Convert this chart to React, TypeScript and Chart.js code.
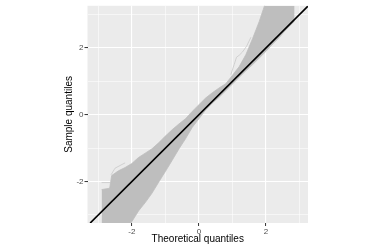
import React, { useEffect, useRef } from "react";
import { Chart, registerables } from "chart.js";

Chart.register(...registerables);

// Theoretical quantile grid for the envelope of the simulated QQ lines
const theoretical = [-2.9, -2.66, -2.6, -2.4, -2.2, -2.0, -1.8, -1.6, -1.4, -1.2, -1.0, -0.8, -0.6, -0.4, -0.2, 0, 0.2, 0.4, 0.6, 0.8, 1.0, 1.2, 1.4, 1.6, 1.8, 2.0, 2.2, 2.4, 2.6, 2.85];
// Upper envelope of sample quantiles
const sampleUpper = [-2.24, -2.2, -1.82, -1.68, -1.58, -1.46, -1.28, -1.15, -1.02, -0.84, -0.64, -0.45, -0.28, -0.12, 0.1, 0.3, 0.5, 0.66, 0.8, 0.93, 1.18, 1.44, 1.8, 2.28, 2.8, 3.4, 3.6, 3.6, 3.6, 3.6];
// Lower envelope of sample quantiles
const sampleLower = [-3.6, -3.6, -3.6, -3.6, -3.55, -3.2, -2.88, -2.63, -2.35, -2.02, -1.7, -1.37, -1.03, -0.72, -0.38, -0.12, 0.14, 0.35, 0.52, 0.72, 0.92, 1.12, 1.32, 1.5, 1.7, 1.9, 2.12, 2.32, 2.55, 2.8];

// Individual stray lines visible outside the dense band
const strayFlatX = [-2.9, -2.62];
const strayFlatY = [-2.03, -2.03];
const strayUpX = [0.95, 1.05, 1.12, 1.2, 1.3, 1.42, 1.55];
const strayUpY = [1.2, 1.5, 1.72, 1.78, 1.88, 2.05, 2.32];
const strayLeftX = [-2.62, -2.5, -2.35, -2.2];
const strayLeftY = [-1.8, -1.6, -1.52, -1.44];

// Reference line y = x
const refLineX = [-3.24, 3.25];
const refLineY = [-3.24, 3.25];

const xMin = -3.32;
const xMax = 3.25;
const yMin = -3.24;
const yMax = 3.26;
const tickValues = [-2, 0, 2];

const zip = (xs: number[], ys: number[]) => xs.map((x, i) => ({ x, y: ys[i] }));

export default function App() {
  const canvasRef = useRef<HTMLCanvasElement | null>(null);

  useEffect(() => {
    const canvas = canvasRef.current;
    if (!canvas) return;
    const isMajor = (v: number) => tickValues.includes(Math.round(v * 1000) / 1000);
    const gridOpts = {
      color: "#FFFFFF",
      lineWidth: (ctx: any) => (ctx.tick && isMajor(ctx.tick.value) ? 1.1 : 0.55),
      tickColor: (ctx: any) => (ctx.tick && isMajor(ctx.tick.value) ? "#333333" : "rgba(0,0,0,0)"),
      tickLength: 3,
      tickWidth: 1,
      drawTicks: true,
    };
    const tickFont = { family: "'Liberation Sans', Arial, sans-serif", size: 8 };
    const titleFont = { family: "'Liberation Sans', Arial, sans-serif", size: 10, lineHeight: 1.2 };
    const stray = (xs: number[], ys: number[], label: string) => ({
      label,
      data: zip(xs, ys),
      borderColor: "#C4C4C4",
      borderWidth: 0.7,
      pointRadius: 0,
      fill: false,
      clip: 0,
      order: 2,
    });

    const chart = new Chart(canvas, {
      type: "line",
      data: {
        datasets: [
          {
            label: "upper",
            data: zip(theoretical, sampleUpper),
            borderColor: "#BEBEBE",
            backgroundColor: "#BEBEBE",
            borderWidth: 0.8,
            pointRadius: 0,
            fill: "+1",
            clip: 0,
            order: 3,
          },
          {
            label: "lower",
            data: zip(theoretical, sampleLower),
            borderColor: "#BEBEBE",
            backgroundColor: "#BEBEBE",
            borderWidth: 0.8,
            pointRadius: 0,
            fill: false,
            clip: 0,
            order: 3,
          },
          stray(strayFlatX, strayFlatY, "stray1"),
          stray(strayUpX, strayUpY, "stray2"),
          stray(strayLeftX, strayLeftY, "stray3"),
          {
            label: "ref",
            data: zip(refLineX, refLineY),
            borderColor: "#000000",
            borderWidth: 1.7,
            pointRadius: 0,
            fill: false,
            clip: 0,
            order: 0,
          },
        ] as any,
      },
      options: {
        animation: false,
        responsive: true,
        maintainAspectRatio: false,
        layout: { padding: { left: 0, right: 66, top: 2, bottom: 0 } },
        plugins: {
          legend: { display: false },
          tooltip: { enabled: false },
        },
        scales: {
          x: {
            type: "linear",
            min: xMin,
            max: xMax,
            border: { display: false },
            grid: gridOpts as any,
            ticks: {
              stepSize: 1,
              autoSkip: false,
              includeBounds: false,
              maxRotation: 0,
              padding: 1,
              color: "#4D4D4D",
              font: tickFont,
              callback: (v: any) => (isMajor(Number(v)) ? String(Math.round(Number(v))) : ""),
            },
            title: {
              display: true,
              text: "Theoretical quantiles",
              color: "#000000",
              font: titleFont,
              padding: { top: 0, bottom: 2 },
            },
            afterFit: (scale: any) => {
              scale.height = 24;
            },
          },
          y: {
            type: "linear",
            min: yMin,
            max: yMax,
            border: { display: false },
            grid: gridOpts as any,
            ticks: {
              stepSize: 1,
              autoSkip: false,
              includeBounds: false,
              padding: 1,
              color: "#4D4D4D",
              font: tickFont,
              callback: (v: any) => (isMajor(Number(v)) ? String(Math.round(Number(v))) : ""),
            },
            title: {
              display: true,
              text: "Sample quantiles",
              color: "#000000",
              font: titleFont,
              padding: { top: 63.5, bottom: 0 },
            },
            afterFit: (scale: any) => {
              scale.width = 87.5;
            },
          },
        },
      },
      plugins: [
        {
          id: "panelBg",
          beforeDraw: (c: any) => {
            const { ctx, chartArea } = c;
            ctx.save();
            ctx.fillStyle = "#EBEBEB";
            ctx.fillRect(chartArea.left, chartArea.top, chartArea.right - chartArea.left, chartArea.bottom - chartArea.top);
            ctx.restore();
          },
        },
      ],
    });
    return () => chart.destroy();
  }, []);

  return (
    <div style={{ position: "absolute", left: 0, top: 0, width: 374, height: 247, background: "#FFFFFF" }}>
      <canvas ref={canvasRef} />
    </div>
  );
}
